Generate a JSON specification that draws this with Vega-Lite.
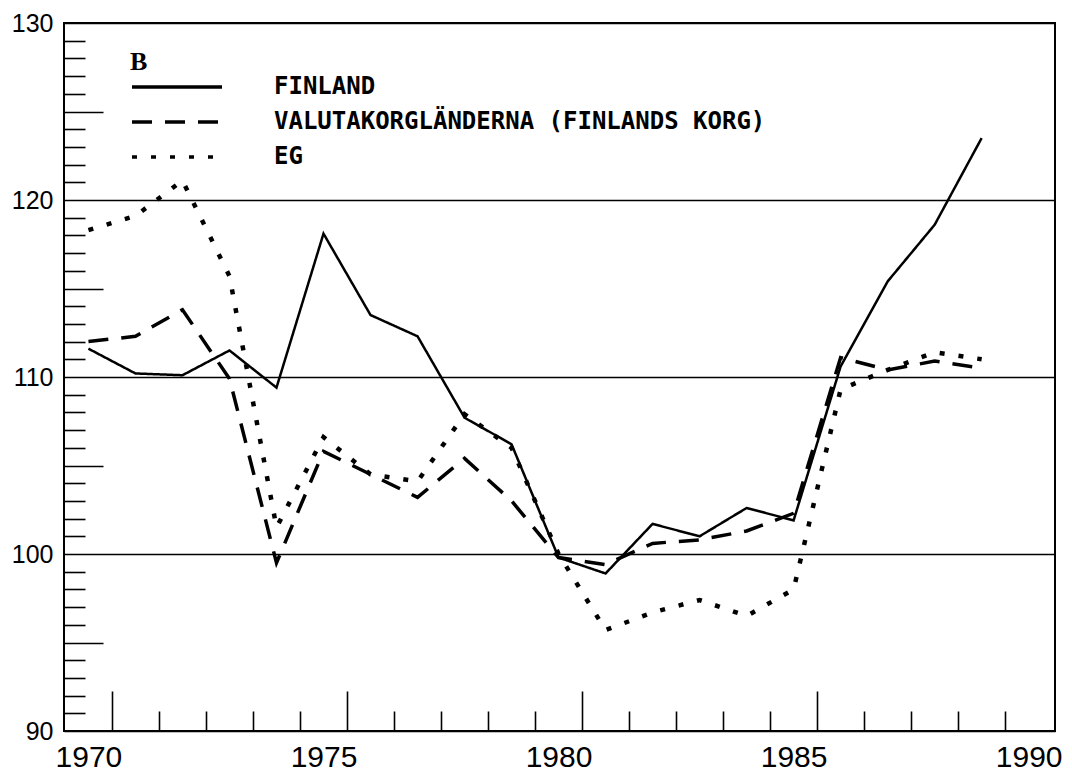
{
  "$schema": "https://vega.github.io/schema/vega-lite/v6.json",
  "width": 991,
  "height": 708,
  "autosize": {"type": "none"},
  "padding": {"left": 64, "top": 23, "right": 17, "bottom": 41},
  "background": "white",
  "data": {
    "values": [
      {"year": 1970, "series": "FINLAND", "value": 111.6},
      {"year": 1971, "series": "FINLAND", "value": 110.2},
      {"year": 1972, "series": "FINLAND", "value": 110.1},
      {"year": 1973, "series": "FINLAND", "value": 111.5},
      {"year": 1974, "series": "FINLAND", "value": 109.4},
      {"year": 1975, "series": "FINLAND", "value": 118.1},
      {"year": 1976, "series": "FINLAND", "value": 113.5},
      {"year": 1977, "series": "FINLAND", "value": 112.3},
      {"year": 1978, "series": "FINLAND", "value": 107.7},
      {"year": 1979, "series": "FINLAND", "value": 106.2},
      {"year": 1980, "series": "FINLAND", "value": 99.8},
      {"year": 1981, "series": "FINLAND", "value": 98.9},
      {"year": 1982, "series": "FINLAND", "value": 101.7},
      {"year": 1983, "series": "FINLAND", "value": 101.0},
      {"year": 1984, "series": "FINLAND", "value": 102.6},
      {"year": 1985, "series": "FINLAND", "value": 101.9},
      {"year": 1986, "series": "FINLAND", "value": 110.6},
      {"year": 1987, "series": "FINLAND", "value": 115.4},
      {"year": 1988, "series": "FINLAND", "value": 118.6},
      {"year": 1989, "series": "FINLAND", "value": 123.5},
      {"year": 1970, "series": "VALUTAKORGLÄNDERNA (FINLANDS KORG)", "value": 112.0},
      {"year": 1971, "series": "VALUTAKORGLÄNDERNA (FINLANDS KORG)", "value": 112.3},
      {"year": 1972, "series": "VALUTAKORGLÄNDERNA (FINLANDS KORG)", "value": 113.8},
      {"year": 1973, "series": "VALUTAKORGLÄNDERNA (FINLANDS KORG)", "value": 109.9},
      {"year": 1974, "series": "VALUTAKORGLÄNDERNA (FINLANDS KORG)", "value": 99.5},
      {"year": 1975, "series": "VALUTAKORGLÄNDERNA (FINLANDS KORG)", "value": 105.8},
      {"year": 1976, "series": "VALUTAKORGLÄNDERNA (FINLANDS KORG)", "value": 104.5},
      {"year": 1977, "series": "VALUTAKORGLÄNDERNA (FINLANDS KORG)", "value": 103.2},
      {"year": 1978, "series": "VALUTAKORGLÄNDERNA (FINLANDS KORG)", "value": 105.4},
      {"year": 1979, "series": "VALUTAKORGLÄNDERNA (FINLANDS KORG)", "value": 103.0},
      {"year": 1980, "series": "VALUTAKORGLÄNDERNA (FINLANDS KORG)", "value": 99.8},
      {"year": 1981, "series": "VALUTAKORGLÄNDERNA (FINLANDS KORG)", "value": 99.4},
      {"year": 1982, "series": "VALUTAKORGLÄNDERNA (FINLANDS KORG)", "value": 100.6},
      {"year": 1983, "series": "VALUTAKORGLÄNDERNA (FINLANDS KORG)", "value": 100.8},
      {"year": 1984, "series": "VALUTAKORGLÄNDERNA (FINLANDS KORG)", "value": 101.3},
      {"year": 1985, "series": "VALUTAKORGLÄNDERNA (FINLANDS KORG)", "value": 102.3},
      {"year": 1986, "series": "VALUTAKORGLÄNDERNA (FINLANDS KORG)", "value": 111.1},
      {"year": 1987, "series": "VALUTAKORGLÄNDERNA (FINLANDS KORG)", "value": 110.4},
      {"year": 1988, "series": "VALUTAKORGLÄNDERNA (FINLANDS KORG)", "value": 110.9},
      {"year": 1989, "series": "VALUTAKORGLÄNDERNA (FINLANDS KORG)", "value": 110.5},
      {"year": 1970, "series": "EG", "value": 118.3},
      {"year": 1971, "series": "EG", "value": 119.1},
      {"year": 1972, "series": "EG", "value": 121.1},
      {"year": 1973, "series": "EG", "value": 115.7},
      {"year": 1974, "series": "EG", "value": 101.5},
      {"year": 1975, "series": "EG", "value": 106.6},
      {"year": 1976, "series": "EG", "value": 104.5},
      {"year": 1977, "series": "EG", "value": 104.1},
      {"year": 1978, "series": "EG", "value": 107.9},
      {"year": 1979, "series": "EG", "value": 106.0},
      {"year": 1980, "series": "EG", "value": 100.0},
      {"year": 1981, "series": "EG", "value": 95.7},
      {"year": 1982, "series": "EG", "value": 96.7},
      {"year": 1983, "series": "EG", "value": 97.4},
      {"year": 1984, "series": "EG", "value": 96.5},
      {"year": 1985, "series": "EG", "value": 98.0},
      {"year": 1986, "series": "EG", "value": 109.3},
      {"year": 1987, "series": "EG", "value": 110.4},
      {"year": 1988, "series": "EG", "value": 111.4},
      {"year": 1989, "series": "EG", "value": 111.0}
    ]
  },
  "layer": [
    {
      "transform": [{"filter": "datum.series === 'FINLAND'"}],
      "mark": {"type": "line", "color": "black", "strokeWidth": 2.5, "strokeJoin": "miter"},
      "encoding": {
        "x": {"field": "year", "type": "quantitative",
          "scale": {"domain": [1969.48, 1990.56], "nice": false, "zero": false},
          "axis": {"orient": "bottom", "title": null, "values": [1970, 1975, 1980, 1985, 1990], "ticks": false, "domain": false, "grid": false,
            "format": "d", "labelFont": "Liberation Sans", "labelFontSize": 30, "labelColor": "black", "labelPadding": 11, "labelOverlap": false, "labelBound": false, "labelFlush": false}},
        "y": {"field": "value", "type": "quantitative",
          "scale": {"domain": [90, 130], "nice": false, "zero": false},
          "axis": {"orient": "left", "title": null, "values": [90, 100, 110, 120, 130], "ticks": false, "domain": false,
            "grid": true, "gridColor": "black", "gridOpacity": 1, "gridWidth": 1.6,
            "labelFont": "Liberation Sans", "labelFontSize": 25, "labelColor": "black", "labelPadding": 11, "labelOverlap": false, "labelBound": false, "labelFlush": false}},
        "strokeDash": {"field": "series", "type": "nominal", "title": "B",
          "scale": {"domain": ["FINLAND", "VALUTAKORGLÄNDERNA (FINLANDS KORG)", "EG"], "range": [[1, 0], [20, 13], [5, 14]]}}
      }
    },
    {
      "transform": [{"filter": "datum.series === 'VALUTAKORGLÄNDERNA (FINLANDS KORG)'"}],
      "mark": {"type": "line", "color": "black", "strokeWidth": 3.5},
      "encoding": {
        "x": {"field": "year", "type": "quantitative",
          "axis": {"orient": "bottom", "title": null, "values": [1971.5, 1972.5, 1973.5, 1974.5, 1976.5, 1977.5, 1978.5, 1979.5, 1981.5, 1982.5, 1983.5, 1984.5, 1986.5, 1987.5, 1988.5, 1989.5],
            "labels": false, "ticks": true, "tickSize": -20, "tickWidth": 1.6, "tickColor": "black", "domain": false, "grid": false}},
        "y": {"field": "value", "type": "quantitative",
          "axis": {"orient": "left", "title": null, "values": [91, 92, 93, 94, 96, 97, 98, 99, 101, 102, 103, 104, 106, 107, 108, 109, 111, 112, 113, 114, 116, 117, 118, 119, 121, 122, 123, 124, 126, 127, 128, 129],
            "labels": false, "ticks": true, "tickSize": -21, "tickWidth": 1.6, "tickColor": "black", "domain": false, "grid": false}},
        "strokeDash": {"field": "series", "type": "nominal", "title": "B"}
      }
    },
    {
      "transform": [{"filter": "datum.series === 'EG'"}],
      "mark": {"type": "line", "color": "black", "strokeWidth": 4.5},
      "encoding": {
        "x": {"field": "year", "type": "quantitative",
          "axis": {"orient": "bottom", "title": null, "values": [1970.5, 1975.5, 1980.5, 1985.5],
            "labels": false, "ticks": true, "tickSize": -40, "tickWidth": 1.6, "tickColor": "black", "domain": false, "grid": false}},
        "y": {"field": "value", "type": "quantitative",
          "axis": {"orient": "left", "title": null, "values": [95, 105, 115, 125],
            "labels": false, "ticks": true, "tickSize": -39, "tickWidth": 1.6, "tickColor": "black", "domain": false, "grid": false}},
        "strokeDash": {"field": "series", "type": "nominal", "title": "B"}
      }
    }
  ],
  "resolve": {"axis": {"x": "independent", "y": "independent"}},
  "config": {
    "view": {"stroke": "black", "strokeWidth": 2},
    "legend": {
      "orient": "none", "legendX": 66, "legendY": 26, "padding": 0,
      "symbolType": "stroke", "symbolSize": 8100, "symbolStrokeWidth": 3.5, "symbolStrokeColor": "black", "symbolOffset": 0,
      "clipHeight": 24, "rowPadding": 11, "labelOffset": 50, "labelLimit": 0,
      "labelFont": "DejaVu Sans Mono", "labelFontSize": 24, "labelFontWeight": "bold", "labelColor": "black",
      "titleFont": "Liberation Serif", "titleFontSize": 26, "titleFontWeight": "bold", "titleColor": "black", "titlePadding": 0, "titleAnchor": "start", "titleBaseline": "top", "titleLimit": 0
    }
  }
}
